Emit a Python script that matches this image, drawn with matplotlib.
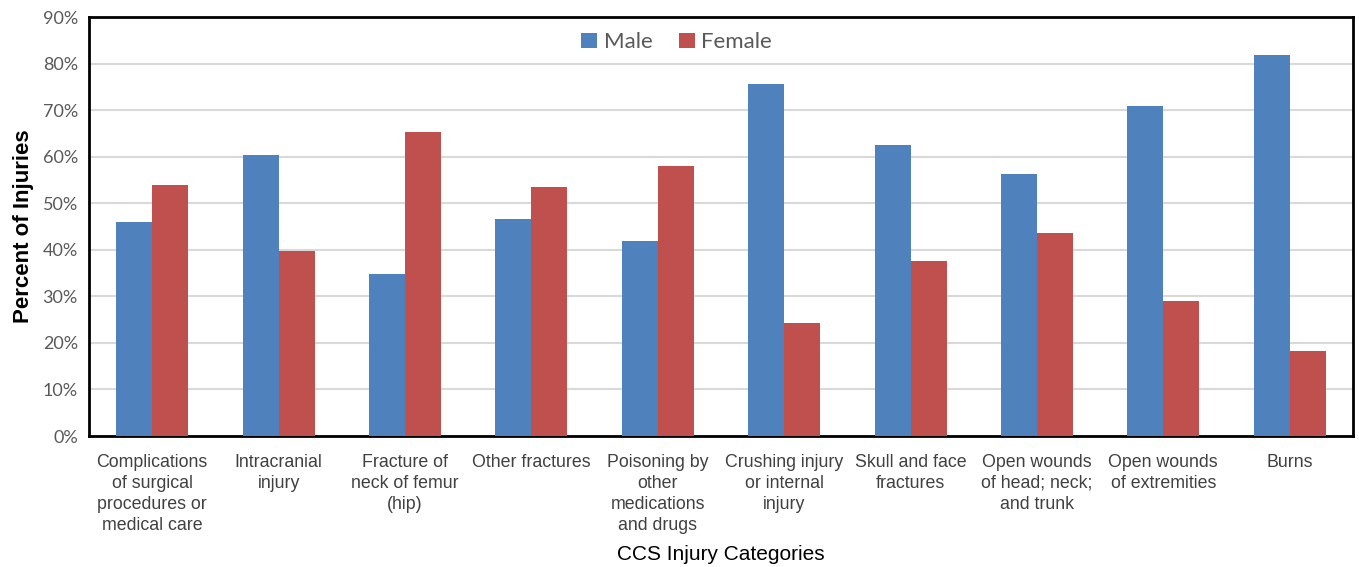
import matplotlib
matplotlib.use('Agg')
from matplotlib import pyplot as plt
from matplotlib import font_manager
import numpy as np

# data
categories = ['Complications\nof surgical\nprocedures or\nmedical care',
              'Intracranial\ninjury',
              'Fracture of\nneck of femur\n(hip)',
              'Other fractures',
              'Poisoning by\nother\nmedications\nand drugs',
              'Crushing injury\nor internal\ninjury',
              'Skull and face\nfractures',
              'Open wounds\nof head; neck;\nand trunk',
              'Open wounds\nof extremities',
              'Burns']
male = [46.0, 60.3, 34.8, 46.6, 41.9, 75.7, 62.5, 56.3, 70.9, 81.8]
female = [54.0, 39.7, 65.2, 53.4, 58.1, 24.3, 37.5, 43.7, 29.1, 18.2]
yticks = [0, 10, 20, 30, 40, 50, 60, 70, 80, 90]

names = {f.name for f in font_manager.fontManager.ttflist}
narrow = 'Liberation Sans Narrow' if 'Liberation Sans Narrow' in names else 'Liberation Sans'

fig = plt.figure(figsize=(13.59, 5.67), dpi=100)
ax = fig.add_axes([0.0655, 0.231, 0.93, 0.739])

x = np.arange(len(categories))
w = 0.285
ax.bar(x - w/2, male, w, color='#4F81BD', label='Male', zorder=3)
ax.bar(x + w/2, female, w, color='#C0504D', label='Female', zorder=3)

ax.set_xlim(-0.5, len(categories) - 0.5)
ax.set_ylim(0, 90)
ax.set_yticks(yticks)
ax.set_yticklabels(['%d%%' % v for v in yticks], fontsize=13, color='#595959', family='Lato')
ax.set_xticks(x)
ax.set_xticklabels(categories, fontsize=12.8, color='#404040', family=narrow, linespacing=1.3)
ax.tick_params(axis='both', length=0, pad=8)
ax.tick_params(axis='x', pad=13)
ax.yaxis.grid(True, color='#d9d9d9', linewidth=1.5, zorder=0)
for s in ax.spines.values():
    s.set_linewidth(2)
    s.set_color('black')

ax.set_ylabel('Percent of Injuries', fontsize=16, fontweight='bold', family='Liberation Sans', labelpad=6)
ax.set_xlabel('CCS Injury Categories', fontsize=15, family=narrow, labelpad=8)

ax.legend(loc='center', bbox_to_anchor=(0.465, 0.94), ncol=2, frameon=False,
          prop={'family': 'Lato', 'size': 16}, handlelength=0.7, handleheight=0.7,
          handletextpad=0.3, columnspacing=1.2, labelcolor='#595959')

fig.savefig('out.png', dpi=100)
